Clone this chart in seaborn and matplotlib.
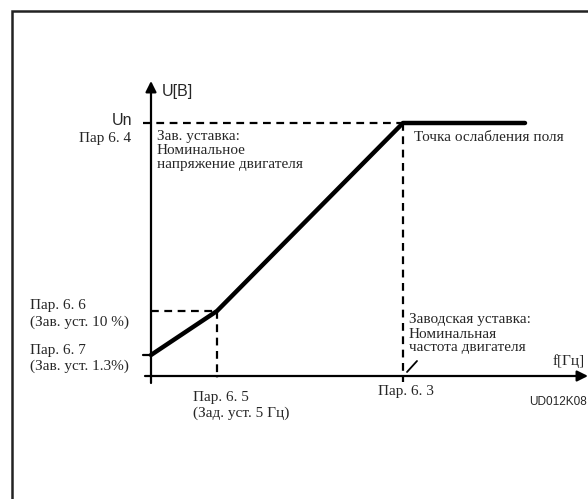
import matplotlib
matplotlib.use("Agg")
import matplotlib.pyplot as plt
import seaborn as sns
import pandas as pd

# Data (schematic units: origin at the axes crossing)
freq = [0, 66, 252, 374]          # 0, Par 6.5 (5 Hz), Par 6.3 (nominal f), max
volt = [21, 65, 253, 253]         # Par 6.7 (1.3%), Par 6.6 (10%), Un, Un
f_labels = ["Пар. 6. 5\n(Зад. уст. 5 Гц)", "Пар. 6. 3"]
u_labels = ["Пар. 6. 6\n(Зав. уст. 10 %)", "Пар. 6. 7\n(Зав. уст. 1.3%)"]

sns.set_style("white")
plt.rcParams['font.family'] = ['Liberation Serif', 'DejaVu Serif']

fig = plt.figure(figsize=(5.88, 4.99), dpi=100)
ax = fig.add_axes([0, 0, 1, 1])
ax.set_xlim(-151, 437)
ax.set_ylim(-123, 376)
ax.axis("off")

df = pd.DataFrame({"f": freq, "U": volt})
sns.lineplot(data=df, x="f", y="U", ax=ax, color="black", lw=3.2,
             solid_capstyle="round", zorder=5, legend=False)

dash = dict(color="black", lw=1.6, ls=(0, (3.5, 2.5)))
# dashed guides
ax.plot([-8, freq[2]], [volt[2], volt[2]], **dash)
ax.plot([freq[2], freq[2]], [volt[2], -6], **dash)
ax.plot([0, freq[1]], [volt[1], volt[1]], **dash)
ax.plot([freq[1], freq[1]], [volt[1], -2], **dash)

# axes with arrows
ax.annotate("", xy=(0, 295), xytext=(0, -7),
            arrowprops=dict(arrowstyle="-|>", lw=1.6, color="black",
                            mutation_scale=16, shrinkA=0, shrinkB=0))
ax.annotate("", xy=(437, 0), xytext=(-6, 0),
            arrowprops=dict(arrowstyle="-|>", lw=1.6, color="black",
                            mutation_scale=16, shrinkA=0, shrinkB=0))
# small tick at Par 6.7
ax.plot([-8, 0], [volt[0], volt[0]], color="black", lw=1.6)

# border frame (left & top)
ax.plot([-139.5, -139.5, 437], [-123, 365, 365], color="#222222", lw=1.8,
        solid_joinstyle="miter")

sans = ['Liberation Sans', 'DejaVu Sans']
fs = 11
ax.text(11, 285, "U[В]", family=sans, fontsize=11.5, va="center", ha="left")
ax.text(-19, 256, "Un", family=sans, fontsize=11.5, va="center", ha="right")
ax.text(-20, 238, "Пар 6. 4", fontsize=fs, va="center", ha="right")
ax.text(6, 246, "Зав. уставка:\nНоминальное\nнапряжение двигателя",
        fontsize=fs, va="top", ha="left", linespacing=1.1)
ax.text(263, 239, "Точка ослабления поля", fontsize=fs, va="center", ha="left")

ax.text(-121, 62, u_labels[0], fontsize=fs, va="center", ha="left",
        linespacing=1.25)
ax.text(-121, 17.5, u_labels[1], fontsize=fs, va="center", ha="left",
        linespacing=1.25)
ax.text(42, -29.5, f_labels[0], fontsize=fs, va="center", ha="left",
        linespacing=1.25)
ax.text(freq[2] + 3, -15, f_labels[1], fontsize=fs, va="center", ha="center")
ax.text(258, 42, "Заводская уставка:\nНоминальная\nчастота двигателя",
        fontsize=fs, va="center", ha="left", linespacing=1.1)
ax.plot([256, 266], [4, 15], color="black", lw=1.3)
ax.text(402, 15, "f[Гц]", fontsize=fs, va="center", ha="left")
ax.text(436, -26, "UD012K08", family=sans, fontsize=8.5, va="center",
        ha="right")

fig.savefig("out.png", dpi=100)
